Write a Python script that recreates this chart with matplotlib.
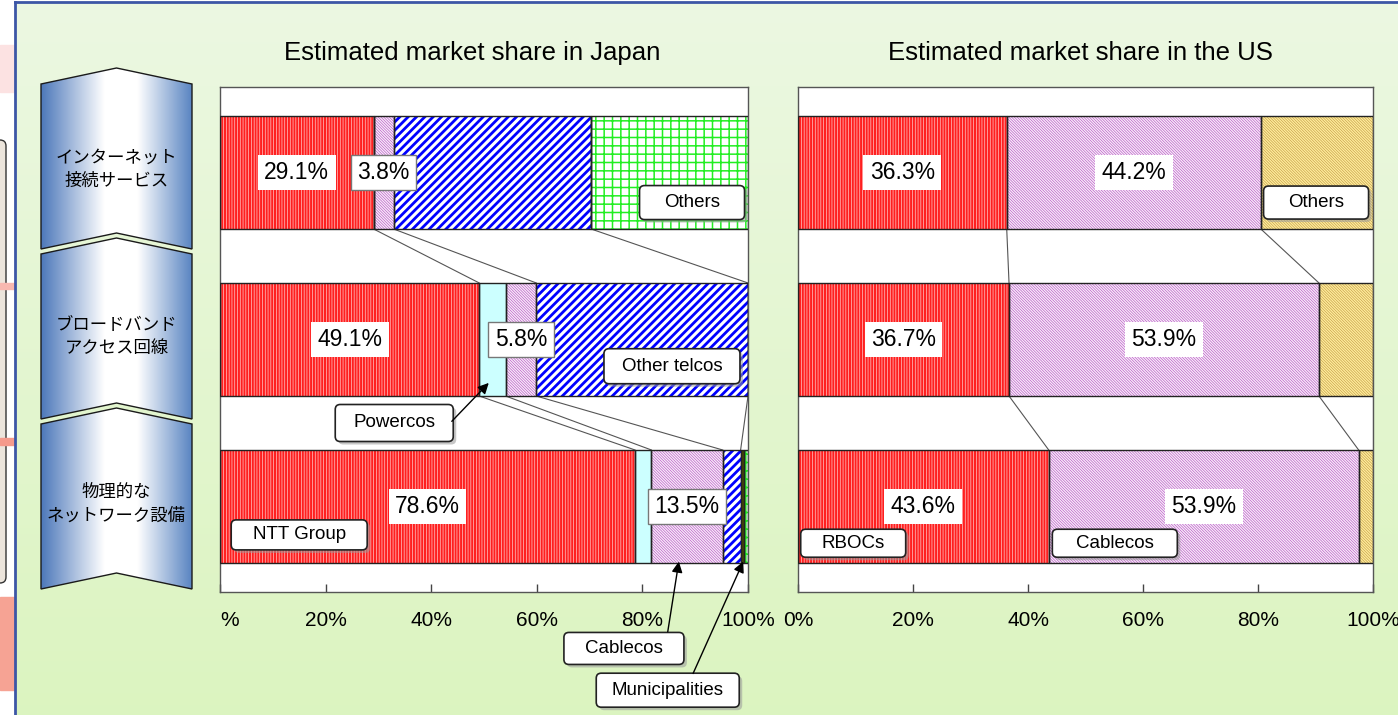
import numpy as np
import matplotlib
matplotlib.use('Agg')
import matplotlib.pyplot as plt
from matplotlib.patches import FancyBboxPatch, Polygon, Rectangle

plt.rcParams['font.family'] = ['Liberation Sans', 'Noto Sans CJK JP', 'DejaVu Sans']

# ---- data ----
row_labels = ['インターネット\n接続サービス', 'ブロードバンド\nアクセス回線', '物理的な\nネットワーク設備']
jp_title = 'Estimated market share in Japan'
us_title = 'Estimated market share in the US'

jp_ntt = [29.1, 49.1, 78.6]
jp_power = [0.0, 5.0, 3.1]
jp_cable = [3.8, 5.8, 13.5]
jp_telco = [37.4, 40.1, 3.4]
jp_muni = [0.0, 0.0, 0.6]
jp_others = [29.7, 0.0, 0.8]

us_rboc = [36.3, 36.7, 43.6]
us_cable = [44.2, 53.9, 53.9]
us_others = [19.5, 9.4, 2.5]

tick_vals = [0, 20, 40, 60, 80, 100]
jp_tick_labels = ['%', '20%', '40%', '60%', '80%', '100%']
us_tick_labels = ['0%', '20%', '40%', '60%', '80%', '100%']

# ---- styles ----
W, H = 1398, 715
rows = np.arange(3)
bar_h = 0.677
red = dict(fc='#ff1f1f', hatch='||||||', hc='#ffc8c8', hlw=0.5)
cable = dict(fc='#f9ecf9', hatch='\\' * 12, hc='#b455c4', hlw=0.45)
telco = dict(fc='white', hatch='////', hc='#0000ff', hlw=2.0)
power = dict(fc='#ccffff')
muni = dict(fc='#4d4d00')
others_jp = dict(fc='white', hatch='++', hc='#22ee22', hlw=1.1)
others_us = dict(fc='#ffee9c', hatch='\\' * 12, hc='#c49a48', hlw=0.45)

fig = plt.figure(figsize=(W / 100, H / 100), dpi=100)
fig.patch.set_facecolor('white')

# background axes in pixel coordinates (top origin)
bg = fig.add_axes([0, 0, 1, 1])
bg.axis('off')
grad = np.linspace(0, 1, 256)
top_c = np.array([0.925, 0.972, 0.886])
bot_c = np.array([0.862, 0.957, 0.753])
green = (top_c[None, :] * (1 - grad[:, None]) + bot_c[None, :] * grad[:, None])[:, None, :]
bg.imshow(green, extent=(15, W, H, 2), aspect='auto', zorder=0)
bg.plot([15, 15], [2, H], color='#3c56a6', lw=2, zorder=2)
bg.plot([15, W], [2, 2], color='#3c56a6', lw=2, zorder=2)

# left strip leftovers of the slide
bg.add_patch(Rectangle((0, 45), 15, 47, color='#fce2e2', zorder=1))
bg.add_patch(FancyBboxPatch((-20, 140), 26, 443, boxstyle='round,pad=0,rounding_size=6',
                            fc='#ece5dc', ec='#333333', lw=1, zorder=1))
bg.add_patch(Rectangle((0, 283), 15, 6, color='#f8b8b0', zorder=1))
bg.add_patch(Rectangle((0, 438), 15, 7, color='#f59a8c', zorder=1))
bg.add_patch(Rectangle((0, 597), 15, 93, color='#f6a394', zorder=1))

# chevrons
chev_l, chev_r, chev_h, notch = 41, 192, 165, 16
chev_tops = [84, 254, 424]
chev_mid = (chev_l + chev_r) / 2
c0 = np.array([0.30, 0.47, 0.73])
c1 = np.array([0.35, 0.52, 0.76])
g = np.linspace(0, 1, 300)
blue_grad = np.stack([np.interp(g, [0, 0.42, 0.64, 1], [c0[i], 1, 1, c1[i]]) for i in range(3)], axis=-1)
blue_grad = np.tile(blue_grad[None, :, :], (2, 1, 1))
for t in chev_tops:
    pts = [(chev_l, t), (chev_mid, t - notch), (chev_r, t), (chev_r, t + chev_h),
           (chev_mid, t + chev_h - notch), (chev_l, t + chev_h)]
    poly = Polygon(pts, closed=True, fc='none', ec='#1a1a1a', lw=1, zorder=3)
    bg.add_patch(poly)
    im = bg.imshow(blue_grad, extent=(chev_l, chev_r, t + chev_h, t - notch), aspect='auto', zorder=2)
    im.set_clip_path(poly)
bg.set_xlim(0, W)
bg.set_ylim(H, 0)

# data axes
ax_jp = fig.add_axes([220 / W, 1 - 592 / H, 528 / W, 505 / H])
ax_us = fig.add_axes([798 / W, 1 - 592 / H, 575 / W, 505 / H])


def stacked(ax, series, styles):
    left = np.zeros(3)
    ends = []
    for vals, st in zip(series, styles):
        vals = np.asarray(vals, dtype=float)
        ax.barh(rows, vals, left=left, height=bar_h, color=st['fc'], lw=0, zorder=2)
        if 'hatch' in st:
            with plt.rc_context({'hatch.linewidth': st['hlw']}):
                bars = ax.barh(rows, vals, left=left, height=bar_h, facecolor='none',
                               edgecolor=st['hc'], hatch=st['hatch'], lw=0, zorder=3)
            for b in bars:
                if hasattr(b, 'set_hatch_linewidth'):
                    b.set_hatch_linewidth(st['hlw'])
        ax.barh(rows, vals, left=left, height=bar_h, facecolor='none',
                edgecolor='#222222', lw=1, zorder=4)
        ends.append((left.copy(), vals))
        left = left + vals
    # series lines between rows
    for start, vals in ends:
        end = start + vals
        for r in range(2):
            if vals[r] > 0 and vals[r + 1] > 0:
                ax.plot([end[r], end[r + 1]], [r + bar_h / 2, r + 1 - bar_h / 2],
                        color='#555555', lw=0.8, zorder=1.5)
    return ends


def style_axes(ax, labels):
    ax.set_xlim(0, 100)
    ax.set_ylim(2 + 0.512, -0.512)
    ax.set_yticks([])
    ax.set_xticks(tick_vals)
    ax.set_xticklabels(labels, fontsize=15)
    ax.tick_params(axis='x', direction='in', length=6, width=1, color='#444444', pad=14)
    for s in ax.spines.values():
        s.set_color('#555555')
        s.set_linewidth(1)
    ax.set_facecolor('white')


def pct(ax, x, y, v, edge='none'):
    ax.text(x, y, f'{v:.1f}%', ha='center', va='center', fontsize=16.5, zorder=6,
            bbox=dict(boxstyle='square,pad=0.28', fc='white', ec=edge, lw=1))


jp_ends = stacked(ax_jp, [jp_ntt, jp_power, jp_cable, jp_telco, jp_muni, jp_others],
                  [red, power, cable, telco, muni, others_jp])
us_ends = stacked(ax_us, [us_rboc, us_cable, us_others], [red, cable, others_us])
style_axes(ax_jp, jp_tick_labels)
style_axes(ax_us, us_tick_labels)
ax_jp.get_xticklabels()[0].set_ha('left')

for r in rows:
    s, v = jp_ends[0]
    pct(ax_jp, s[r] + v[r] / 2, r, v[r])
    s, v = jp_ends[2]
    pct(ax_jp, s[r] + v[r] / 2, r, v[r], edge='#777777')
    for s, v in us_ends[:2]:
        pct(ax_us, s[r] + v[r] / 2, r, v[r])

fig.text(472 / W, 1 - 53 / H, jp_title, ha='center', va='center', fontsize=18.5)
fig.text(1080 / W, 1 - 53 / H, us_title, ha='center', va='center', fontsize=18.5)

# row labels inside the chevrons
for r, lab in zip(rows, row_labels):
    yp = H - ax_jp.transData.transform((0, r))[1] - 3
    bg.text(chev_mid, yp, lab, ha='center', va='center', fontsize=12.5, linespacing=1.4,
            family=['Noto Sans CJK JP', 'DejaVu Sans'], zorder=5)

# overlay for callouts (display pixel coordinates, bottom origin)
over = fig.add_axes([0, 0, 1, 1])
over.axis('off')
over.set_xlim(0, W)
over.set_ylim(0, H)
over.patch.set_alpha(0)


def callout(ax, x, y, text, w, h):
    px, py = ax.transData.transform((x, y))
    over.add_patch(FancyBboxPatch((px - w / 2 + 3, py - h / 2 - 3), w, h,
                                  boxstyle='round,pad=0,rounding_size=5',
                                  fc='#9a9a9a', ec='none', alpha=0.55, zorder=2))
    over.add_patch(FancyBboxPatch((px - w / 2, py - h / 2), w, h,
                                  boxstyle='round,pad=0,rounding_size=5',
                                  fc='white', ec='#222222', lw=1.2, zorder=3))
    over.text(px, py, text, ha='center', va='center', fontsize=13.5, zorder=4)


def arrow(ax, start, tip):
    over.annotate('', xy=ax.transData.transform(tip), xytext=ax.transData.transform(start),
                  arrowprops=dict(arrowstyle='-|>', color='black', lw=1, mutation_scale=16,
                                  shrinkA=0, shrinkB=0), zorder=5)


arrow(ax_jp, (43.9, 1.49), (50.9, 1.26))
arrow(ax_jp, (84.8, 2.75), (86.9, 2.33))
arrow(ax_jp, (89.6, 3.0), (99.1, 2.33))

callout(ax_jp, 89.4, 0.18, 'Others', 105, 34)
callout(ax_jp, 85.6, 1.16, 'Other telcos', 136, 35)
callout(ax_jp, 33.0, 1.50, 'Powercos', 118, 37)
callout(ax_jp, 15.0, 2.17, 'NTT Group', 136, 30)
callout(ax_jp, 76.5, 2.85, 'Cablecos', 120, 32)
callout(ax_jp, 84.8, 3.10, 'Municipalities', 143, 34)
callout(ax_us, 90.1, 0.18, 'Others', 105, 33)
callout(ax_us, 9.6, 2.22, 'RBOCs', 105, 28)
callout(ax_us, 55.1, 2.22, 'Cablecos', 125, 28)

fig.savefig('out.png', dpi=100)
